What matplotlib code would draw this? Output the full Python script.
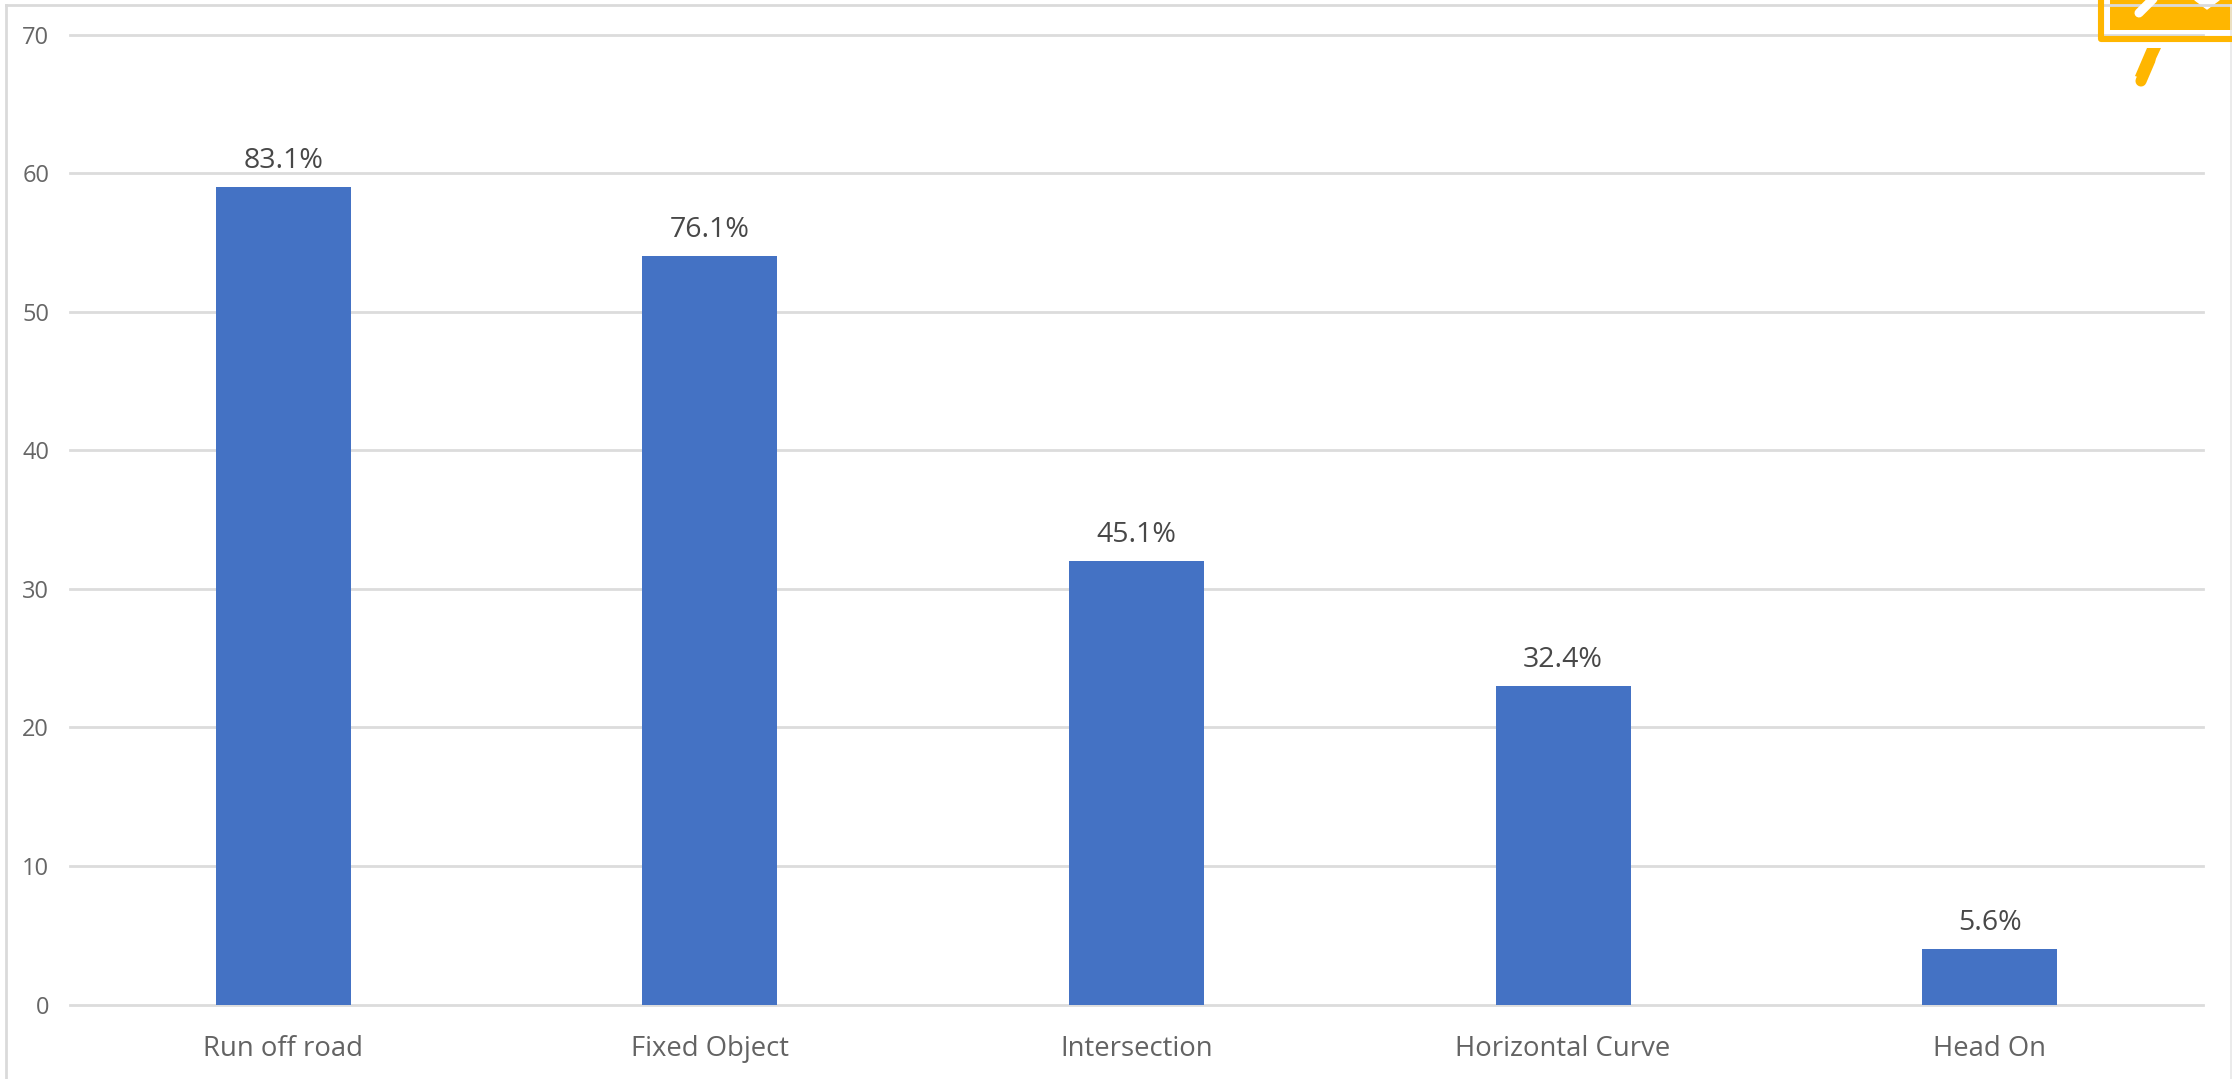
import matplotlib
matplotlib.use("Agg")
import matplotlib.pyplot as plt
from matplotlib.patches import Rectangle, Polygon
from matplotlib.lines import Line2D

categories = ["Run off road", "Fixed Object", "Intersection", "Horizontal Curve", "Head On"]
values = [59, 54, 32, 23, 4]
labels = ["83.1%", "76.1%", "45.1%", "32.4%", "5.6%"]
yticks = [0, 10, 20, 30, 40, 50, 60, 70]

W, H = 2232, 1079
plt.rcParams['font.family'] = ['Open Sans', 'DejaVu Sans']
fig = plt.figure(figsize=(W/100, H/100), dpi=100, facecolor="white")
ax = fig.add_axes([70/W, 1-1004.5/H, (2203-70)/W, (1004.5-34.5)/H])

ax.bar(range(5), values, width=0.316, color="#4472C4", linewidth=0, zorder=3)
for i, (v, l) in enumerate(zip(values, labels)):
    ax.annotate(l, (i, v), xytext=(0, 8.5), textcoords="offset points", ha="center", va="bottom",
                fontsize=20.5, color="#484848", zorder=4)
ax.set_xlim(-0.5, 4.5)
ax.set_ylim(0, 70)
ax.set_yticks(yticks)
ax.set_xticks(range(5))
ax.set_xticklabels(categories, fontsize=19.8, color="#636363")
ax.tick_params(axis="both", length=0)
ax.tick_params(axis="y", labelsize=17, labelcolor="#666666", pad=15)
ax.tick_params(axis="x", pad=22)
ax.grid(axis="y", color="#DCDCDC", linewidth=2.0, zorder=0, clip_on=False)
ax.set_axisbelow(True)
for s in ax.spines.values():
    s.set_visible(False)

def X(p): return p / W
def Y(p): return 1 - p / H
tr = fig.transFigure

# outer frame
fig.add_artist(Line2D([X(6), X(6)], [Y(5), Y(1079)], color="#DADADA", lw=2.0))
fig.add_artist(Line2D([X(6), X(2232)], [Y(5), Y(5)], color="#DADADA", lw=2.0))
fig.add_artist(Line2D([X(2231), X(2231)], [Y(5), Y(1079)], color="#E8E8E8", lw=1.2))

# icon in the top right corner
amber = "#FFB600"
fig.add_artist(Line2D([X(2101), X(2101), X(2232)], [Y(0), Y(39), Y(39)], color=amber, lw=4.4,
                      solid_joinstyle="round"))
fig.add_artist(Rectangle((X(2110), Y(30)), X(122), 30/H, transform=tr, facecolor=amber, lw=0))
fig.add_artist(Line2D([X(2139), X(2158)], [Y(13), Y(-6)], color="white", lw=6.5, solid_capstyle="round"))
fig.add_artist(Polygon([(X(2195), Y(0)), (X(2207), Y(9)), (X(2219), Y(0))], transform=tr,
                       facecolor="white", edgecolor="white", lw=1, joinstyle="round"))
fig.add_artist(Line2D([X(2141), X(2150)], [Y(81), Y(60)], color=amber, lw=8, solid_capstyle="round"))
fig.add_artist(Polygon([(X(2147), Y(48)), (X(2161), Y(48)), (X(2146), Y(80)), (X(2135), Y(76))], transform=tr,
                       facecolor=amber, lw=0))

fig.savefig("out.png", dpi=100)
